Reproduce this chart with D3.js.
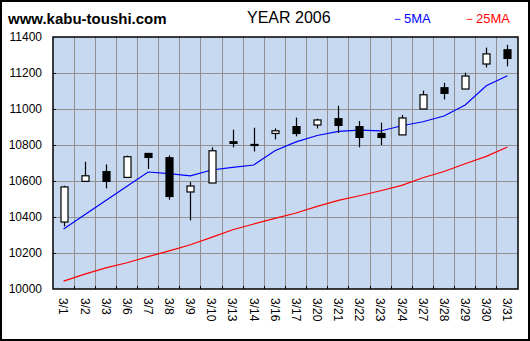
<!DOCTYPE html>
<html>
<head>
<meta charset="utf-8">
<script src="https://cdn.jsdelivr.net/npm/d3@7"></script>
<style>
  html, body { margin: 0; padding: 0; background: #fff; }
  svg { display: block; }
  text { font-family: "Liberation Sans", Arial, sans-serif; }
</style>
</head>
<body>
<svg id="chart" width="530" height="341"></svg>
<script>
// Nikkei daily candles, March 2006
const dates = ["3/1","3/2","3/3","3/6","3/7","3/8","3/9","3/10","3/13","3/14","3/16",
               "3/17","3/20","3/21","3/22","3/23","3/24","3/27","3/28","3/29","3/30","3/31"];
const openVals  = [10372,10598,10652,10620,10753,10729,10539,10589,10818,10803,10864,
                   10902,10911,10946,10902,10864,10856,11000,11118,11111,11250,11329];
const highVals  = [10574,10707,10692,10741,10756,10742,10594,10787,10885,10896,10892,
                   10952,10946,11018,10933,10924,10967,11102,11146,11202,11341,11357];
const lowVals   = [10348,10598,10559,10620,10667,10496,10381,10589,10787,10764,10831,
                   10848,10892,10867,10787,10800,10856,11000,11053,11111,11231,11237];
const closeVals = [10567,10629,10598,10735,10731,10514,10572,10768,10809,10803,10879,
                   10864,10939,10909,10842,10842,10950,11079,11087,11183,11306,11281];
// moving averages
const ma5  = [10333,10412,10491,10571,10650,10641,10629,10661,10676,10689,10768,
              10817,10853,10876,10883,10878,10907,10929,10961,11022,11129,11185];
const ma25 = [10044,10083,10117,10146,10180,10212,10246,10287,10329,10361,10392,
              10422,10459,10492,10518,10546,10576,10618,10653,10696,10737,10789];
const yTicks = [10000,10200,10400,10600,10800,11000,11200,11400];

const svg = d3.select("#chart");
const W = 530, H = 341;
const plot = {left: 53, right: 518, top: 37, bottom: 289};

const x = d3.scaleBand().domain(dates).range([plot.left, plot.right]).padding(0);
const y = d3.scaleLinear().domain([10000, 11400]).range([plot.bottom, plot.top]);
const cx = d => x(d) + x.bandwidth() / 2;

// outer frame
svg.append("rect").attr("x", 1).attr("y", 1).attr("width", W - 2).attr("height", H - 2)
  .attr("fill", "#fff").attr("stroke", "#000").attr("stroke-width", 2);

// plot background
svg.append("rect").attr("x", plot.left).attr("y", plot.top)
  .attr("width", plot.right - plot.left).attr("height", plot.bottom - plot.top)
  .attr("fill", "#C6D9F1");

// grid
const grid = svg.append("g").attr("stroke", "#8f8f8f").attr("stroke-width", 1)
  .attr("shape-rendering", "crispEdges");
dates.slice(1).forEach(d => {
  grid.append("line").attr("x1", x(d)).attr("x2", x(d))
    .attr("y1", plot.top).attr("y2", plot.bottom);
});
yTicks.slice(1, -1).forEach(v => {
  grid.append("line").attr("x1", plot.left).attr("x2", plot.right)
    .attr("y1", y(v)).attr("y2", y(v));
});

// small inside ticks
const ticks = svg.append("g").attr("stroke", "#000").attr("stroke-width", 1)
  .attr("shape-rendering", "crispEdges");
dates.slice(1).forEach(d => {
  ticks.append("line").attr("x1", x(d)).attr("x2", x(d))
    .attr("y1", plot.bottom - 3).attr("y2", plot.bottom);
});
yTicks.slice(1, -1).forEach(v => {
  ticks.append("line").attr("x1", plot.left).attr("x2", plot.left + 3)
    .attr("y1", y(v)).attr("y2", y(v));
});

// moving average lines
const line = d3.line().x((v, i) => cx(dates[i])).y(v => y(v));
svg.append("path").datum(ma25).attr("d", line).attr("fill", "none")
  .attr("stroke", "#ff0000").attr("stroke-width", 1.2);
svg.append("path").datum(ma5).attr("d", line).attr("fill", "none")
  .attr("stroke", "#0000ff").attr("stroke-width", 1.2);

// candles
const bodyW = 7;
const candles = svg.append("g");
dates.forEach((d, i) => {
  const c = Math.round(cx(d)) + 0.5;
  const o = openVals[i], cl = closeVals[i];
  candles.append("line").attr("x1", c).attr("x2", c)
    .attr("y1", y(highVals[i])).attr("y2", y(lowVals[i]))
    .attr("stroke", "#000").attr("stroke-width", 1.2);
  const top = y(Math.max(o, cl)), bot = y(Math.min(o, cl));
  candles.append("rect")
    .attr("x", c - bodyW / 2).attr("y", top)
    .attr("width", bodyW).attr("height", Math.max(bot - top, 1))
    .attr("fill", cl > o ? "#fff" : "#000")
    .attr("stroke", "#000").attr("stroke-width", 1.2);
});

// plot border
svg.append("rect").attr("x", plot.left).attr("y", plot.top)
  .attr("width", plot.right - plot.left).attr("height", plot.bottom - plot.top)
  .attr("fill", "none").attr("stroke", "#000").attr("stroke-width", 1.5);

// y labels
svg.append("g").selectAll("text").data(yTicks).join("text")
  .attr("x", 42).attr("y", v => y(v)).attr("dy", "0.35em")
  .attr("text-anchor", "end").attr("font-size", 12).attr("fill", "#000")
  .text(v => v);

// x labels, rotated
svg.append("g").selectAll("text").data(dates).join("text")
  .attr("transform", d => `translate(${cx(d)},298) rotate(90)`)
  .attr("dy", "0.35em").attr("text-anchor", "start")
  .attr("font-size", 12).attr("fill", "#000")
  .text(d => d);

// header
svg.append("text").attr("x", 8).attr("y", 24).attr("font-size", 15)
  .attr("font-weight", "bold").attr("fill", "#000").text("www.kabu-toushi.com");
svg.append("text").attr("x", 247).attr("y", 23).attr("font-size", 16)
  .attr("fill", "#000").text("YEAR 2006");
svg.append("text").attr("x", 391).attr("y", 23).attr("font-size", 13)
  .attr("fill", "#0000ff").text("－5MA");
svg.append("text").attr("x", 463).attr("y", 23).attr("font-size", 13)
  .attr("fill", "#ff0000").text("－25MA");
</script>
</body>
</html>
